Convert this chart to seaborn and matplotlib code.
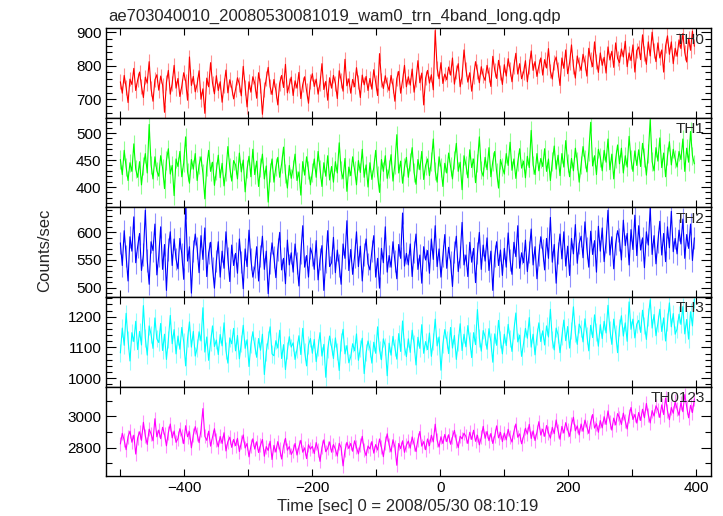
import numpy as np
import pandas as pd
import matplotlib
matplotlib.use("Agg")
import matplotlib.pyplot as plt
from matplotlib.ticker import MultipleLocator
import seaborn as sns

# time bins (sec), 3 s apart
time_sec = np.arange(-500, 400, 3)

th0 = [752, 718, 771, 735, 690, 760, 744, 792, 726, 757,
       781, 739, 705, 766, 748, 812, 731, 694, 758, 773,
       727, 769, 742, 661, 750, 786, 715, 747, 801, 733,
       762, 708, 739, 779, 754, 697, 826, 741, 768, 722,
       745, 785, 700, 731, 658, 763, 737, 809, 748, 716,
       770, 726, 752, 691, 741, 787, 719, 758, 734, 701,
       729, 764, 745, 710, 798, 736, 677, 752, 721, 767,
       748, 703, 779, 740, 655, 728, 761, 795, 737, 714,
       759, 726, 683, 748, 771, 735, 804, 719, 742, 766,
       711, 755, 733, 780, 702, 744, 767, 725, 688, 752,
       776, 738, 760, 715, 747, 806, 729, 753, 697, 764,
       733, 771, 748, 702, 785, 756, 724, 819, 740, 761,
       718, 759, 737, 794, 751, 705, 772, 743, 768, 726,
       762, 730, 788, 749, 711, 836, 757, 732, 770, 745,
       726, 771, 740, 694, 762, 783, 718, 756, 801, 737,
       767, 742, 790, 721, 758, 815, 749, 778, 683, 763,
       786, 748, 773, 728, 905, 792, 761, 809, 747, 775,
       758, 796, 772, 823, 745, 781, 806, 737, 768, 847,
       790, 751, 779, 724, 768, 812, 783, 749, 797, 770,
       756, 801, 774, 738, 828, 787, 762, 816, 779, 744,
       803, 769, 821, 790, 752, 798, 837, 775, 806, 761,
       780, 815, 752, 797, 844, 786, 812, 768, 799, 823,
       772, 818, 793, 851, 784, 760, 809, 826, 788, 741,
       823, 792, 847, 776, 809, 862, 798, 763, 829, 805,
       786, 834, 810, 769, 852, 819, 797, 871, 813, 780,
       838, 801, 825, 778, 856, 817, 843, 795, 868, 822,
       809, 850, 826, 873, 797, 838, 815, 862, 781, 845,
       856, 818, 892, 837, 804, 871, 829, 900, 846, 812,
       868, 823, 847, 781, 859, 889, 834, 871, 806, 852,
       828, 877, 851, 896, 839, 811, 882, 846, 903, 858]

th1 = [451, 423, 468, 437, 412, 445, 429, 480, 433, 418,
       447, 404, 439, 462, 426, 516, 441, 415, 456, 430,
       420, 458, 435, 397, 449, 471, 424, 440, 384, 452,
       438, 466, 419, 445, 493, 428, 407, 451, 433, 462,
       412, 441, 456, 425, 378, 437, 468, 429, 446, 403,
       430, 459, 417, 444, 402, 428, 475, 436, 411, 449,
       441, 415, 463, 428, 450, 391, 433, 457, 419, 470,
       423, 448, 401, 436, 461, 415, 439, 372, 427, 452,
       409, 437, 455, 418, 443, 474, 425, 398, 440, 416,
       434, 461, 412, 428, 385, 447, 422, 456, 431, 404,
       427, 452, 418, 466, 433, 401, 445, 420, 458, 413,
       438, 409, 447, 426, 482, 431, 415, 453, 392, 437,
       421, 456, 432, 404, 449, 427, 470, 418, 441, 400,
       445, 414, 436, 468, 422, 390, 451, 429, 458, 416,
       433, 460, 411, 442, 497, 426, 448, 407, 437, 455,
       418, 446, 473, 427, 405, 451, 432, 466, 414, 440,
       452, 421, 447, 489, 430, 409, 456, 436, 401, 444,
       426, 463, 438, 415, 450, 481, 429, 446, 395, 458,
       441, 417, 469, 436, 452, 408, 445, 493, 431, 420,
       455, 432, 473, 419, 447, 466, 428, 398, 451, 437,
       424, 462, 440, 483, 431, 452, 416, 446, 471, 435,
       448, 417, 457, 436, 505, 441, 423, 462, 430, 453,
       438, 471, 429, 452, 412, 447, 476, 433, 459, 421,
       462, 437, 486, 445, 419, 453, 430, 472, 448, 409,
       441, 475, 452, 428, 466, 520, 439, 458, 423, 470,
       455, 430, 468, 446, 489, 432, 461, 415, 452, 478,
       443, 472, 426, 458, 437, 494, 451, 429, 467, 440,
       469, 438, 481, 455, 422, 462, 525, 447, 430, 473,
       448, 491, 436, 463, 419, 457, 484, 441, 470, 452,
       437, 466, 451, 489, 429, 472, 446, 503, 458, 443]

th2 = [581, 540, 603, 557, 512, 592, 566, 628, 545, 574,
       598, 531, 560, 640, 549, 506, 583, 567, 615, 523,
       557, 610, 533, 578, 495, 569, 601, 540, 588, 552,
       534, 589, 561, 515, 645, 548, 574, 490, 566, 597,
       571, 527, 594, 551, 608, 520, 563, 582, 536, 499,
       548, 583, 519, 566, 535, 601, 553, 511, 577, 540,
       562, 526, 588, 547, 498, 570, 538, 604, 551, 519,
       537, 574, 512, 558, 593, 533, 566, 489, 545, 581,
       555, 518, 569, 600, 532, 553, 507, 586, 541, 563,
       528, 579, 545, 503, 562, 612, 537, 558, 519, 572,
       560, 533, 585, 514, 551, 576, 495, 547, 603, 538,
       545, 591, 527, 568, 540, 506, 579, 553, 621, 531,
       569, 524, 556, 601, 538, 575, 512, 560, 588, 543,
       532, 566, 594, 519, 553, 499, 571, 545, 610, 528,
       558, 537, 583, 548, 516, 578, 553, 635, 539, 562,
       541, 579, 520, 565, 597, 533, 559, 508, 574, 550,
       567, 526, 588, 551, 612, 538, 570, 519, 558, 596,
       535, 573, 547, 502, 564, 593, 529, 556, 618, 541,
       559, 520, 582, 546, 571, 509, 562, 600, 533, 577,
       548, 590, 531, 566, 495, 557, 583, 540, 568, 522,
       571, 537, 599, 550, 524, 582, 556, 612, 535, 563,
       545, 586, 529, 565, 606, 541, 574, 516, 559, 592,
       568, 532, 589, 553, 627, 546, 578, 508, 563, 597,
       552, 601, 539, 575, 522, 589, 561, 614, 544, 580,
       593, 554, 619, 571, 537, 602, 560, 585, 528, 611,
       566, 608, 547, 583, 640, 559, 592, 534, 579, 603,
       587, 550, 622, 576, 598, 541, 605, 569, 631, 558,
       612, 568, 590, 536, 601, 577, 645, 560, 594, 543,
       583, 620, 559, 598, 547, 610, 572, 638, 565, 589,
       561, 604, 579, 624, 553, 596, 571, 615, 549, 590]

th3 = [1082, 1163, 1107, 1211, 1124, 1056, 1148, 1119, 1185, 1093,
       1152, 1108, 1236, 1131, 1075, 1170, 1142, 1097, 1196, 1128,
       1116, 1178, 1090, 1143, 1061, 1125, 1204, 1112, 1158, 1079,
       1137, 1094, 1165, 1118, 1040, 1129, 1183, 1101, 1152, 1072,
       1098, 1151, 1121, 1229, 1085, 1134, 1058, 1117, 1170, 1103,
       1124, 1077, 1142, 1105, 1180, 1090, 1049, 1131, 1112, 1162,
       1089, 1139, 1063, 1114, 1172, 1097, 1125, 1038, 1110, 1151,
       1106, 1068, 1129, 1091, 1143, 1012, 1085, 1124, 1167, 1079,
       1073, 1122, 1098, 1156, 1064, 1109, 1028, 1090, 1135, 1101,
       1115, 1061, 1094, 1138, 1077, 1162, 1086, 1040, 1108, 1129,
       1081, 1126, 1054, 1099, 1148, 1072, 1110, 1003, 1093, 1137,
       1102, 1064, 1131, 1087, 1025, 1118, 1159, 1079, 1106, 1050,
       1070, 1112, 1089, 1144, 1058, 1097, 1130, 1015, 1083, 1121,
       1096, 1049, 1117, 1081, 1167, 1092, 1060, 1128, 1104, 1008,
       1114, 1075, 1136, 1099, 1062, 1145, 1087, 1186, 1103, 1070,
       1128, 1084, 1156, 1112, 1043, 1133, 1097, 1174, 1081, 1119,
       1093, 1147, 1071, 1120, 1192, 1105, 1134, 1026, 1111, 1158,
       1126, 1080, 1165, 1098, 1139, 1061, 1117, 1177, 1090, 1143,
       1102, 1171, 1123, 1067, 1148, 1109, 1223, 1131, 1088, 1155,
       1135, 1094, 1161, 1118, 1052, 1144, 1107, 1188, 1126, 1079,
       1143, 1106, 1175, 1129, 1087, 1156, 1212, 1118, 1140, 1071,
       1112, 1162, 1130, 1197, 1101, 1143, 1076, 1136, 1180, 1119,
       1154, 1108, 1170, 1134, 1224, 1125, 1092, 1163, 1141, 1083,
       1137, 1189, 1122, 1168, 1098, 1155, 1232, 1146, 1110, 1176,
       1161, 1118, 1193, 1140, 1089, 1172, 1132, 1206, 1150, 1104,
       1174, 1129, 1185, 1147, 1237, 1158, 1110, 1192, 1144, 1083,
       1166, 1203, 1137, 1180, 1120, 1248, 1159, 1192, 1131, 1176,
       1188, 1149, 1221, 1172, 1126, 1199, 1255, 1163, 1207, 1138,
       1179, 1224, 1152, 1196, 1121, 1183, 1245, 1167, 1210, 1143,
       1160, 1208, 1175, 1233, 1144, 1191, 1127, 1216, 1170, 1257]

th0123 = [2823, 2891, 2847, 2786, 2870, 2905, 2834, 2879, 2758, 2862,
          2901, 2846, 2962, 2874, 2820, 2918, 2887, 2843, 2985, 2869,
          2912, 2857, 2930, 2884, 2811, 2896, 2951, 2862, 2906, 2833,
          2858, 2921, 2877, 2825, 2940, 2869, 2902, 2798, 2881, 2934,
          2886, 2831, 2913, 3050, 2872, 2846, 2905, 2809, 2867, 2921,
          2849, 2804, 2871, 2826, 2895, 2778, 2838, 2866, 2801, 2852,
          2812, 2859, 2774, 2833, 2881, 2797, 2826, 2740, 2809, 2856,
          2790, 2837, 2768, 2815, 2852, 2744, 2806, 2781, 2840, 2723,
          2814, 2771, 2838, 2790, 2726, 2812, 2859, 2783, 2806, 2755,
          2779, 2826, 2752, 2805, 2846, 2770, 2798, 2729, 2818, 2790,
          2808, 2761, 2832, 2786, 2711, 2801, 2849, 2773, 2795, 2836,
          2770, 2819, 2789, 2745, 2827, 2798, 2682, 2781, 2833, 2794,
          2826, 2776, 2843, 2801, 2759, 2815, 2872, 2787, 2748, 2810,
          2791, 2838, 2764, 2819, 2784, 2855, 2801, 2741, 2829, 2888,
          2817, 2772, 2850, 2804, 2686, 2826, 2793, 2843, 2769, 2815,
          2842, 2796, 2868, 2821, 2774, 2851, 2903, 2809, 2838, 2786,
          2855, 2812, 2879, 2836, 2950, 2847, 2803, 2869, 2826, 2884,
          2838, 2882, 2821, 2867, 2910, 2845, 2799, 2873, 2856, 2892,
          2871, 2826, 2898, 2852, 2911, 2840, 2879, 2817, 2866, 2936,
          2859, 2903, 2844, 2890, 2826, 2875, 2939, 2862, 2897, 2838,
          2893, 2849, 2917, 2870, 2835, 2902, 2951, 2866, 2888, 2824,
          2871, 2924, 2886, 2949, 2858, 2907, 2845, 2899, 2966, 2880,
          2918, 2872, 2941, 2895, 2860, 2930, 2889, 2977, 2908, 2853,
          2936, 2893, 2960, 2914, 2872, 2948, 2995, 2907, 2939, 2881,
          2951, 2904, 2976, 2932, 2891, 2965, 3012, 2925, 2953, 2898,
          2973, 2926, 2998, 2948, 3035, 2967, 2912, 2989, 2945, 3018,
          2992, 2948, 3021, 2969, 2919, 3003, 3057, 2980, 3012, 2957,
          3025, 2974, 3046, 2991, 3083, 3010, 2958, 3037, 3002, 3068,
          3041, 2993, 3074, 3012, 3118, 3035, 2979, 3057, 3020, 3096,
          3048, 3007, 3089, 3030, 3140, 3062, 2991, 3071, 3025, 3113]

bands = ["TH0", "TH1", "TH2", "TH3", "TH0123"]
series = [th0, th1, th2, th3, th0123]
errors = [22, 17, 20, 28, 45]
colors = ["#ff0000", "#00ff00", "#0000ff", "#00ffff", "#ff00ff"]
err_colors = ["#ff9090", "#90ff90", "#9090ff", "#90ffff", "#ff90ff"]
ylims = [(644, 911), (362, 528), (483, 645), (973, 1264), (2617, 3192)]
major_step = [100, 50, 50, 100, 200]
minor_step = [20, 10, 10, 20, 100]

sns.set_style("ticks")
plt.rcParams["font.family"] = ["Liberation Sans", "DejaVu Sans"]

fig, axes = plt.subplots(5, 1, figsize=(7.23, 5.16), dpi=100, sharex=True)
fig.subplots_adjust(left=0.147, right=0.9834, top=0.9448, bottom=0.0775, hspace=0)

for i, ax in enumerate(axes):
    df = pd.DataFrame({"time": time_sec, "rate": series[i]})
    ax.errorbar(df["time"], df["rate"], yerr=errors[i], fmt="none",
                ecolor=err_colors[i], elinewidth=0.8, capsize=0, zorder=1)
    sns.lineplot(data=df, x="time", y="rate", ax=ax, color=colors[i],
                 estimator=None, linewidth=0.8, zorder=2)
    ax.set_ylim(*ylims[i])
    ax.set_xlim(-522, 423)
    ax.yaxis.set_major_locator(MultipleLocator(major_step[i]))
    ax.yaxis.set_minor_locator(MultipleLocator(minor_step[i]))
    ax.xaxis.set_major_locator(MultipleLocator(200))
    ax.xaxis.set_minor_locator(MultipleLocator(100))
    ax.tick_params(which="both", direction="in", top=True, right=True,
                   labelsize=11, width=0.8, colors="black")
    ax.tick_params(axis="y", which="major", length=7)
    ax.tick_params(axis="y", which="minor", length=4)
    ax.tick_params(axis="x", which="both", length=5)
    ax.set_xlabel("")
    ax.set_ylabel("")
    for sp in ax.spines.values():
        sp.set_linewidth(1.0)
        sp.set_color("black")
        sp.set_zorder(5)
    ax.text(0.990, 0.955, bands[i], transform=ax.transAxes, ha="right",
            va="top", fontsize=11, zorder=6)

axes[-1].set_xticks([-400, -200, 0, 200, 400])
axes[-1].set_xticklabels(["\u2212400", "\u2212200", "0", "200", "400"])

fig.text(108 / 723, 1 - 16 / 516, "ae703040010_20080530081019_wam0_trn_4band_long.qdp",
         ha="left", va="center", fontsize=12)
fig.text(45 / 723, 1 - 250 / 516, "Counts/sec", rotation=90,
         ha="center", va="center", fontsize=12)
fig.text(408 / 723, 1 - 507 / 516, "Time [sec] 0 = 2008/05/30 08:10:19",
         ha="center", va="center", fontsize=12)

fig.savefig("out.png", dpi=100)
